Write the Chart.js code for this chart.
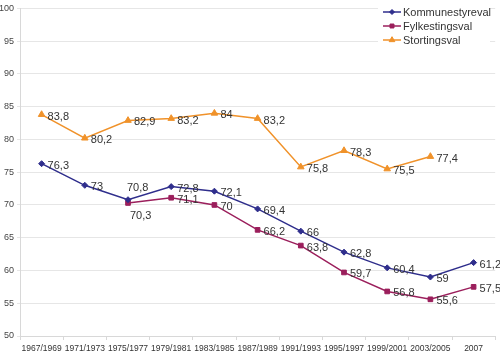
<!DOCTYPE html>
<html>
<head>
<meta charset="utf-8">
<script src="https://cdn.jsdelivr.net/npm/chart.js@4/dist/chart.umd.min.js"></script>
<style>
  html, body { margin: 0; padding: 0; background: #fff; }
  #wrap { width: 500px; height: 354px; }
</style>
</head>
<body>
<div id="wrap"><canvas id="myChart" width="500" height="354"></canvas></div>
<script>
'use strict';

let periods = ['1967/1969', '1971/1973', '1975/1977', '1979/1981', '1983/1985', '1987/1989',
  '1991/1993', '1995/1997', '1999/2001', '2003/2005', '2007'];
let seriesNames = ['Kommunestyreval', 'Fylkestingsval', 'Stortingsval'];
let kommune = [76.3, 73, 70.8, 72.8, 72.1, 69.4, 66, 62.8, 60.4, 59, 61.2];
let fylke = [null, null, 70.3, 71.1, 70, 66.2, 63.8, 59.7, 56.8, 55.6, 57.5];
let storting = [83.8, 80.2, 82.9, 83.2, 84, 83.2, 75.8, 78.3, 75.5, 77.4, null];
let yTicks = [50, 55, 60, 65, 70, 75, 80, 85, 90, 95, 100];

let colours = ['#2f2e8c', '#9b1f5c', '#f0922a'];
let markers = ['rectRot', 'rect', 'triangle'];
let markerSize = [3, 3.3, 3.8];

let fontFamily = '"Liberation Sans", Arial, sans-serif';

// where the value label sits, per series (default: right of the point)
let labelPlace = [
  { 2: 'above' },
  { 2: 'below' },
  {}
];

function fmt(v) {
  return String(v).replace('.', ',');
}

let valueLabels = {
  id: 'valueLabels',
  afterDatasetsDraw(chart) {
    let ctx = chart.ctx;
    ctx.save();
    ctx.font = '11px ' + fontFamily;
    ctx.fillStyle = '#333';
    chart.data.datasets.forEach((ds, i) => {
      let meta = chart.getDatasetMeta(i);
      meta.data.forEach((pt, j) => {
        let v = ds.data[j];
        if (v === null || v === undefined) return;
        let place = labelPlace[i][j] || 'right';
        ctx.textAlign = 'left';
        ctx.textBaseline = 'middle';
        if (place === 'above') {
          ctx.fillText(fmt(v), pt.x - 1, pt.y - 12);
        } else if (place === 'below') {
          ctx.fillText(fmt(v), pt.x + 2, pt.y + 13);
        } else {
          ctx.fillText(fmt(v), pt.x + 6, pt.y + 2);
        }
      });
    });
    ctx.restore();
  }
};

let lineLegend = {
  id: 'lineLegend',
  afterDraw(chart) {
    let ctx = chart.ctx;
    ctx.save();
    ctx.fillStyle = '#fff';
    ctx.fillRect(378, 2, 112, 44);
    ctx.font = '11px ' + fontFamily;
    ctx.textBaseline = 'middle';
    ctx.textAlign = 'left';
    seriesNames.forEach((name, i) => {
      let y = 12 + i * 14;
      ctx.strokeStyle = colours[i];
      ctx.lineWidth = 1.5;
      ctx.beginPath();
      ctx.moveTo(383, y);
      ctx.lineTo(401, y);
      ctx.stroke();
      ctx.fillStyle = colours[i];
      ctx.lineWidth = 1;
      Chart.helpers.drawPoint(ctx, {
        pointStyle: markers[i], radius: markerSize[i] - 0.5, rotation: 0, borderWidth: 1
      }, 392, y);
      ctx.fillStyle = '#333';
      ctx.fillText(name, 403, y + 1);
    });
    ctx.restore();
  }
};

let datasets = [kommune, fylke, storting].map((values, i) => ({
  label: seriesNames[i],
  data: values,
  borderColor: colours[i],
  backgroundColor: colours[i],
  borderWidth: 1.5,
  pointStyle: markers[i],
  pointRadius: markerSize[i],
  pointBorderWidth: 1,
  pointHoverRadius: markerSize[i],
  tension: 0,
  spanGaps: false
}));

let ctx = document.getElementById('myChart').getContext('2d');
new Chart(ctx, {
  type: 'line',
  data: { labels: periods, datasets: datasets },
  options: {
    responsive: false,
    animation: false,
    layout: { padding: { top: 4, right: 0, left: 0, bottom: 0 } },
    plugins: {
      legend: { display: false },
      tooltip: { enabled: false }
    },
    scales: {
      x: {
        offset: true,
        afterFit: s => { s.height = 18; },
        grid: {
          offset: true,
          drawOnChartArea: false,
          tickLength: 4,
          color: '#d8d8d8'
        },
        border: { color: '#d8d8d8' },
        ticks: {
          autoSkip: false,
          maxRotation: 0,
          padding: 4,
          color: '#333',
          font: { family: fontFamily, size: 8.5 }
        }
      },
      y: {
        min: 50,
        max: 100,
        afterFit: s => { s.width = 20; },
        afterBuildTicks: s => { s.ticks = yTicks.map(v => ({ value: v })); },
        grid: { color: '#e6e6e6', tickLength: 3 },
        border: { color: '#d8d8d8' },
        ticks: {
          padding: 3,
          color: '#444',
          font: { family: fontFamily, size: 9 }
        }
      }
    }
  },
  plugins: [valueLabels, lineLegend]
});
</script>
</body>
</html>
